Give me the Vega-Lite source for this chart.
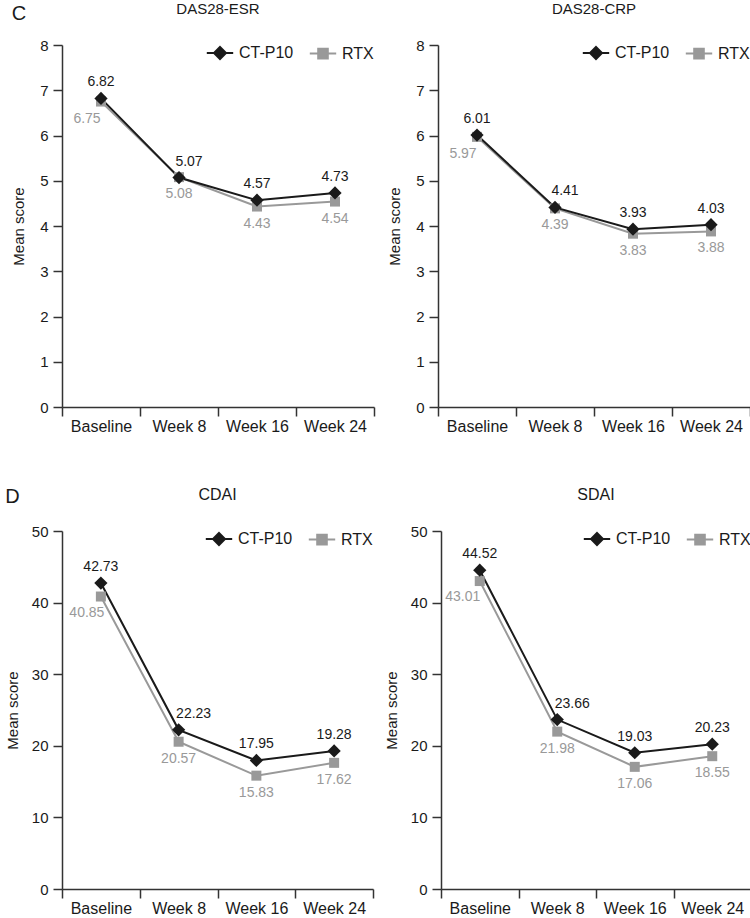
{
  "$schema": "https://vega.github.io/schema/vega-lite/v6.json",
  "padding": {"left": 5, "top": 2, "right": 0, "bottom": 0},
  "background": "white",
  "datasets": {
    "scores": [
      {"panel": "DAS28-ESR", "group": "RTX", "time": "Baseline", "value": 6.75},
      {"panel": "DAS28-ESR", "group": "RTX", "time": "Week 8", "value": 5.08},
      {"panel": "DAS28-ESR", "group": "RTX", "time": "Week 16", "value": 4.43},
      {"panel": "DAS28-ESR", "group": "RTX", "time": "Week 24", "value": 4.54},
      {"panel": "DAS28-ESR", "group": "CT-P10", "time": "Baseline", "value": 6.82},
      {"panel": "DAS28-ESR", "group": "CT-P10", "time": "Week 8", "value": 5.07},
      {"panel": "DAS28-ESR", "group": "CT-P10", "time": "Week 16", "value": 4.57},
      {"panel": "DAS28-ESR", "group": "CT-P10", "time": "Week 24", "value": 4.73},
      {"panel": "DAS28-CRP", "group": "RTX", "time": "Baseline", "value": 5.97},
      {"panel": "DAS28-CRP", "group": "RTX", "time": "Week 8", "value": 4.39},
      {"panel": "DAS28-CRP", "group": "RTX", "time": "Week 16", "value": 3.83},
      {"panel": "DAS28-CRP", "group": "RTX", "time": "Week 24", "value": 3.88},
      {"panel": "DAS28-CRP", "group": "CT-P10", "time": "Baseline", "value": 6.01},
      {"panel": "DAS28-CRP", "group": "CT-P10", "time": "Week 8", "value": 4.41},
      {"panel": "DAS28-CRP", "group": "CT-P10", "time": "Week 16", "value": 3.93},
      {"panel": "DAS28-CRP", "group": "CT-P10", "time": "Week 24", "value": 4.03},
      {"panel": "CDAI", "group": "RTX", "time": "Baseline", "value": 40.85},
      {"panel": "CDAI", "group": "RTX", "time": "Week 8", "value": 20.57},
      {"panel": "CDAI", "group": "RTX", "time": "Week 16", "value": 15.83},
      {"panel": "CDAI", "group": "RTX", "time": "Week 24", "value": 17.62},
      {"panel": "CDAI", "group": "CT-P10", "time": "Baseline", "value": 42.73},
      {"panel": "CDAI", "group": "CT-P10", "time": "Week 8", "value": 22.23},
      {"panel": "CDAI", "group": "CT-P10", "time": "Week 16", "value": 17.95},
      {"panel": "CDAI", "group": "CT-P10", "time": "Week 24", "value": 19.28},
      {"panel": "SDAI", "group": "RTX", "time": "Baseline", "value": 43.01},
      {"panel": "SDAI", "group": "RTX", "time": "Week 8", "value": 21.98},
      {"panel": "SDAI", "group": "RTX", "time": "Week 16", "value": 17.06},
      {"panel": "SDAI", "group": "RTX", "time": "Week 24", "value": 18.55},
      {"panel": "SDAI", "group": "CT-P10", "time": "Baseline", "value": 44.52},
      {"panel": "SDAI", "group": "CT-P10", "time": "Week 8", "value": 23.66},
      {"panel": "SDAI", "group": "CT-P10", "time": "Week 16", "value": 19.03},
      {"panel": "SDAI", "group": "CT-P10", "time": "Week 24", "value": 20.23}
    ]
  },
  "spacing": 53,
  "resolve": {"scale": {"color": "independent", "x": "independent", "y": "independent"}, "legend": {"color": "independent"}},
  "vconcat": [
    {
      "title": {"text": "C", "anchor": "start", "frame": "bounds", "fontSize": 20, "fontWeight": "normal", "offset": -22, "color": "#1a1a1a"},
      "spacing": 12,
      "resolve": {"scale": {"color": "independent", "x": "independent", "y": "independent"}, "legend": {"color": "independent"}},
      "hconcat": [
        {
          "width": 312, "height": 362,
          "title": {"text": "DAS28-ESR", "fontSize": 15, "fontWeight": "normal", "offset": 21, "anchor": "middle", "color": "#1a1a1a"},
          "data": {"name": "scores"},
          "transform": [{"filter": "datum.panel === 'DAS28-ESR'"}],
          "encoding": {
            "x": {"field": "time", "type": "nominal", "sort": ["Baseline", "Week 8", "Week 16", "Week 24"], "scale": {"type": "band", "paddingInner": 0, "paddingOuter": 0}, "axis": {"title": null, "labelAngle": 0, "tickBand": "extent", "labelPadding": 2, "labelFontSize": 16}},
            "y": {"field": "value", "type": "quantitative", "scale": {"domain": [0, 8], "nice": false}, "axis": {"title": "Mean score", "values": [0, 1, 2, 3, 4, 5, 6, 7, 8], "labelPadding": 5, "titlePadding": 13}},
            "color": {"field": "group", "type": "nominal", "scale": {"domain": ["CT-P10", "RTX"], "range": ["#1a1a1a", "#999999"]},
              "legend": {"orient": "top-right", "direction": "horizontal", "title": null, "offset": 0, "padding": 0, "labelFontSize": 16, "labelColor": "#1a1a1a", "columnPadding": 11, "labelOffset": 11, "symbolSize": 144, "symbolStrokeWidth": 2,
                "encode": {"symbols": {"update": {
                  "shape": {"signal": "datum.value === 'CT-P10' ? 'M-2.2,0L2.2,0M0,-1L1,0L0,1L-1,0Z' : 'M-2.2,0L2.2,0M-0.8,-0.8L0.8,-0.8L0.8,0.8L-0.8,0.8Z'"},
                  "fill": {"signal": "datum.value === 'CT-P10' ? '#1a1a1a' : '#999999'"},
                  "stroke": {"signal": "datum.value === 'CT-P10' ? '#1a1a1a' : '#999999'"},
                  "strokeWidth": {"value": 2}, "size": {"value": 144}, "opacity": {"value": 1}, "fillOpacity": {"value": 1}}}}}}
          },
          "layer": [
            {"transform": [{"filter": "datum.group === 'RTX'"}], "mark": {"type": "line", "strokeWidth": 2}},
            {"transform": [{"filter": "datum.group === 'CT-P10'"}], "mark": {"type": "line", "strokeWidth": 2}},
            {"transform": [{"filter": "datum.group === 'RTX'"}], "mark": {"type": "point", "shape": "square", "size": 100, "filled": true, "opacity": 1}},
            {"transform": [{"filter": "datum.group === 'CT-P10'"}], "mark": {"type": "point", "shape": "diamond", "size": 175, "filled": true, "opacity": 1}},
            {"transform": [{"filter": "datum.group === 'CT-P10' && datum.time !== 'Week 8'"}], "mark": {"type": "text", "dy": -16, "fontSize": 14}, "encoding": {"text": {"field": "value", "format": ".2f"}}},
            {"transform": [{"filter": "datum.group === 'CT-P10' && datum.time === 'Week 8'"}], "mark": {"type": "text", "dy": -16, "dx": 10, "fontSize": 14}, "encoding": {"text": {"field": "value", "format": ".2f"}}},
            {"transform": [{"filter": "datum.group === 'RTX' && datum.time !== 'Baseline'"}], "mark": {"type": "text", "dy": 17, "fontSize": 14}, "encoding": {"text": {"field": "value", "format": ".2f"}}},
            {"transform": [{"filter": "datum.group === 'RTX' && datum.time === 'Baseline'"}], "mark": {"type": "text", "dy": 17, "dx": -14, "fontSize": 14}, "encoding": {"text": {"field": "value", "format": ".2f"}}}
          ]
        },
        {
          "width": 312, "height": 362,
          "title": {"text": "DAS28-CRP", "fontSize": 15, "fontWeight": "normal", "offset": 21, "anchor": "middle", "color": "#1a1a1a"},
          "data": {"name": "scores"},
          "transform": [{"filter": "datum.panel === 'DAS28-CRP'"}],
          "encoding": {
            "x": {"field": "time", "type": "nominal", "sort": ["Baseline", "Week 8", "Week 16", "Week 24"], "scale": {"type": "band", "paddingInner": 0, "paddingOuter": 0}, "axis": {"title": null, "labelAngle": 0, "tickBand": "extent", "labelPadding": 2, "labelFontSize": 16}},
            "y": {"field": "value", "type": "quantitative", "scale": {"domain": [0, 8], "nice": false}, "axis": {"title": "Mean score", "values": [0, 1, 2, 3, 4, 5, 6, 7, 8], "labelPadding": 5, "titlePadding": 13}},
            "color": {"field": "group", "type": "nominal", "scale": {"domain": ["CT-P10", "RTX"], "range": ["#1a1a1a", "#999999"]},
              "legend": {"orient": "top-right", "direction": "horizontal", "title": null, "offset": 0, "padding": 0, "labelFontSize": 16, "labelColor": "#1a1a1a", "columnPadding": 11, "labelOffset": 11, "symbolSize": 144, "symbolStrokeWidth": 2,
                "encode": {"symbols": {"update": {
                  "shape": {"signal": "datum.value === 'CT-P10' ? 'M-2.2,0L2.2,0M0,-1L1,0L0,1L-1,0Z' : 'M-2.2,0L2.2,0M-0.8,-0.8L0.8,-0.8L0.8,0.8L-0.8,0.8Z'"},
                  "fill": {"signal": "datum.value === 'CT-P10' ? '#1a1a1a' : '#999999'"},
                  "stroke": {"signal": "datum.value === 'CT-P10' ? '#1a1a1a' : '#999999'"},
                  "strokeWidth": {"value": 2}, "size": {"value": 144}, "opacity": {"value": 1}, "fillOpacity": {"value": 1}}}}}}
          },
          "layer": [
            {"transform": [{"filter": "datum.group === 'RTX'"}], "mark": {"type": "line", "strokeWidth": 2}},
            {"transform": [{"filter": "datum.group === 'CT-P10'"}], "mark": {"type": "line", "strokeWidth": 2}},
            {"transform": [{"filter": "datum.group === 'RTX'"}], "mark": {"type": "point", "shape": "square", "size": 100, "filled": true, "opacity": 1}},
            {"transform": [{"filter": "datum.group === 'CT-P10'"}], "mark": {"type": "point", "shape": "diamond", "size": 175, "filled": true, "opacity": 1}},
            {"transform": [{"filter": "datum.group === 'CT-P10' && datum.time !== 'Week 8'"}], "mark": {"type": "text", "dy": -16, "fontSize": 14}, "encoding": {"text": {"field": "value", "format": ".2f"}}},
            {"transform": [{"filter": "datum.group === 'CT-P10' && datum.time === 'Week 8'"}], "mark": {"type": "text", "dy": -16, "dx": 10, "fontSize": 14}, "encoding": {"text": {"field": "value", "format": ".2f"}}},
            {"transform": [{"filter": "datum.group === 'RTX' && datum.time !== 'Baseline'"}], "mark": {"type": "text", "dy": 17, "fontSize": 14}, "encoding": {"text": {"field": "value", "format": ".2f"}}},
            {"transform": [{"filter": "datum.group === 'RTX' && datum.time === 'Baseline'"}], "mark": {"type": "text", "dy": 17, "dx": -14, "fontSize": 14}, "encoding": {"text": {"field": "value", "format": ".2f"}}}
          ]
        }
      ]
    },
    {
      "title": {"text": "D", "anchor": "start", "frame": "bounds", "fontSize": 20, "fontWeight": "normal", "offset": -20, "color": "#1a1a1a"},
      "spacing": 10,
      "resolve": {"scale": {"color": "independent", "x": "independent", "y": "independent"}, "legend": {"color": "independent"}},
      "hconcat": [
        {
          "width": 311, "height": 358,
          "title": {"text": "CDAI", "fontSize": 16, "fontWeight": "normal", "offset": 21, "anchor": "middle", "color": "#1a1a1a"},
          "data": {"name": "scores"},
          "transform": [{"filter": "datum.panel === 'CDAI'"}],
          "encoding": {
            "x": {"field": "time", "type": "nominal", "sort": ["Baseline", "Week 8", "Week 16", "Week 24"], "scale": {"type": "band", "paddingInner": 0, "paddingOuter": 0}, "axis": {"title": null, "labelAngle": 0, "tickBand": "extent", "labelPadding": 2, "labelFontSize": 16}},
            "y": {"field": "value", "type": "quantitative", "scale": {"domain": [0, 50], "nice": false}, "axis": {"title": "Mean score", "values": [0, 10, 20, 30, 40, 50], "labelPadding": 5, "titlePadding": 11}},
            "color": {"field": "group", "type": "nominal", "scale": {"domain": ["CT-P10", "RTX"], "range": ["#1a1a1a", "#999999"]},
              "legend": {"orient": "top-right", "direction": "horizontal", "title": null, "offset": 0, "padding": 0, "labelFontSize": 16, "labelColor": "#1a1a1a", "columnPadding": 11, "labelOffset": 11, "symbolSize": 144, "symbolStrokeWidth": 2,
                "encode": {"symbols": {"update": {
                  "shape": {"signal": "datum.value === 'CT-P10' ? 'M-2.2,0L2.2,0M0,-1L1,0L0,1L-1,0Z' : 'M-2.2,0L2.2,0M-0.8,-0.8L0.8,-0.8L0.8,0.8L-0.8,0.8Z'"},
                  "fill": {"signal": "datum.value === 'CT-P10' ? '#1a1a1a' : '#999999'"},
                  "stroke": {"signal": "datum.value === 'CT-P10' ? '#1a1a1a' : '#999999'"},
                  "strokeWidth": {"value": 2}, "size": {"value": 144}, "opacity": {"value": 1}, "fillOpacity": {"value": 1}}}}}}
          },
          "layer": [
            {"transform": [{"filter": "datum.group === 'RTX'"}], "mark": {"type": "line", "strokeWidth": 2}},
            {"transform": [{"filter": "datum.group === 'CT-P10'"}], "mark": {"type": "line", "strokeWidth": 2}},
            {"transform": [{"filter": "datum.group === 'RTX'"}], "mark": {"type": "point", "shape": "square", "size": 100, "filled": true, "opacity": 1}},
            {"transform": [{"filter": "datum.group === 'CT-P10'"}], "mark": {"type": "point", "shape": "diamond", "size": 175, "filled": true, "opacity": 1}},
            {"transform": [{"filter": "datum.group === 'CT-P10' && datum.time !== 'Week 8'"}], "mark": {"type": "text", "dy": -16, "fontSize": 14}, "encoding": {"text": {"field": "value", "format": ".2f"}}},
            {"transform": [{"filter": "datum.group === 'CT-P10' && datum.time === 'Week 8'"}], "mark": {"type": "text", "dy": -16, "dx": 15, "fontSize": 14}, "encoding": {"text": {"field": "value", "format": ".2f"}}},
            {"transform": [{"filter": "datum.group === 'RTX' && datum.time !== 'Baseline'"}], "mark": {"type": "text", "dy": 17, "fontSize": 14}, "encoding": {"text": {"field": "value", "format": ".2f"}}},
            {"transform": [{"filter": "datum.group === 'RTX' && datum.time === 'Baseline'"}], "mark": {"type": "text", "dy": 16, "dx": -14, "fontSize": 14}, "encoding": {"text": {"field": "value", "format": ".2f"}}}
          ]
        },
        {
          "width": 310, "height": 358,
          "title": {"text": "SDAI", "fontSize": 16, "fontWeight": "normal", "offset": 21, "anchor": "middle", "color": "#1a1a1a"},
          "data": {"name": "scores"},
          "transform": [{"filter": "datum.panel === 'SDAI'"}],
          "encoding": {
            "x": {"field": "time", "type": "nominal", "sort": ["Baseline", "Week 8", "Week 16", "Week 24"], "scale": {"type": "band", "paddingInner": 0, "paddingOuter": 0}, "axis": {"title": null, "labelAngle": 0, "tickBand": "extent", "labelPadding": 2, "labelFontSize": 16}},
            "y": {"field": "value", "type": "quantitative", "scale": {"domain": [0, 50], "nice": false}, "axis": {"title": "Mean score", "values": [0, 10, 20, 30, 40, 50], "labelPadding": 5, "titlePadding": 11}},
            "color": {"field": "group", "type": "nominal", "scale": {"domain": ["CT-P10", "RTX"], "range": ["#1a1a1a", "#999999"]},
              "legend": {"orient": "top-right", "direction": "horizontal", "title": null, "offset": 0, "padding": 0, "labelFontSize": 16, "labelColor": "#1a1a1a", "columnPadding": 11, "labelOffset": 11, "symbolSize": 144, "symbolStrokeWidth": 2,
                "encode": {"symbols": {"update": {
                  "shape": {"signal": "datum.value === 'CT-P10' ? 'M-2.2,0L2.2,0M0,-1L1,0L0,1L-1,0Z' : 'M-2.2,0L2.2,0M-0.8,-0.8L0.8,-0.8L0.8,0.8L-0.8,0.8Z'"},
                  "fill": {"signal": "datum.value === 'CT-P10' ? '#1a1a1a' : '#999999'"},
                  "stroke": {"signal": "datum.value === 'CT-P10' ? '#1a1a1a' : '#999999'"},
                  "strokeWidth": {"value": 2}, "size": {"value": 144}, "opacity": {"value": 1}, "fillOpacity": {"value": 1}}}}}}
          },
          "layer": [
            {"transform": [{"filter": "datum.group === 'RTX'"}], "mark": {"type": "line", "strokeWidth": 2}},
            {"transform": [{"filter": "datum.group === 'CT-P10'"}], "mark": {"type": "line", "strokeWidth": 2}},
            {"transform": [{"filter": "datum.group === 'RTX'"}], "mark": {"type": "point", "shape": "square", "size": 100, "filled": true, "opacity": 1}},
            {"transform": [{"filter": "datum.group === 'CT-P10'"}], "mark": {"type": "point", "shape": "diamond", "size": 175, "filled": true, "opacity": 1}},
            {"transform": [{"filter": "datum.group === 'CT-P10' && datum.time !== 'Week 8'"}], "mark": {"type": "text", "dy": -16, "fontSize": 14}, "encoding": {"text": {"field": "value", "format": ".2f"}}},
            {"transform": [{"filter": "datum.group === 'CT-P10' && datum.time === 'Week 8'"}], "mark": {"type": "text", "dy": -16, "dx": 15, "fontSize": 14}, "encoding": {"text": {"field": "value", "format": ".2f"}}},
            {"transform": [{"filter": "datum.group === 'RTX' && datum.time !== 'Baseline'"}], "mark": {"type": "text", "dy": 17, "fontSize": 14}, "encoding": {"text": {"field": "value", "format": ".2f"}}},
            {"transform": [{"filter": "datum.group === 'RTX' && datum.time === 'Baseline'"}], "mark": {"type": "text", "dy": 16, "dx": -17, "fontSize": 14}, "encoding": {"text": {"field": "value", "format": ".2f"}}}
          ]
        }
      ]
    }
  ],
  "config": {
    "font": "Liberation Sans",
    "view": {"stroke": null},
    "axis": {"grid": false, "domainColor": "#333333", "tickColor": "#333333", "domainWidth": 1.5, "tickWidth": 1.5, "tickSize": 9, "labelColor": "#1a1a1a", "titleColor": "#1a1a1a", "labelFont": "Liberation Sans", "titleFont": "Liberation Sans", "labelFontSize": 15, "titleFontSize": 15, "titleFontWeight": "normal"},
    "legend": {"labelFont": "Liberation Sans"},
    "title": {"font": "Liberation Sans"},
    "text": {"font": "Liberation Sans"}
  }
}
